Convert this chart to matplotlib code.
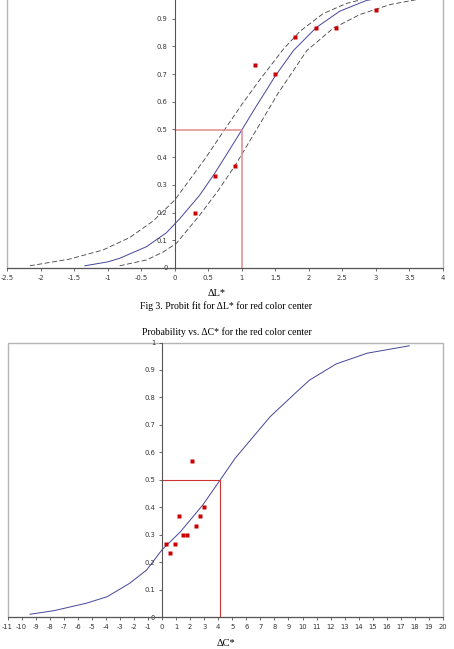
import matplotlib
matplotlib.use("Agg")
import matplotlib.pyplot as plt
from matplotlib.patches import Rectangle

plt.rcParams['axes.unicode_minus'] = False

# --- top chart: probit fit for dL* ---
dl_obs_x = [0.3, 0.6, 0.9, 1.2, 1.5, 1.8, 2.1, 2.4, 3.0]
dl_obs_y = [0.2, 0.333, 0.367, 0.733, 0.7, 0.833, 0.867, 0.867, 0.933]

dl_fit_x = [-1.34, -1.0, -0.82, -0.42, -0.12, 0.075, 0.37, 0.6, 0.8, 1.0, 1.2, 1.37, 1.49, 1.77, 2.11, 2.46, 2.86, 3.3, 3.8]
dl_fit_y = [0.008, 0.022, 0.035, 0.077, 0.128, 0.178, 0.262, 0.343, 0.42, 0.498, 0.578, 0.643, 0.69, 0.785, 0.868, 0.927, 0.966, 0.984, 0.994]

dl_up_x = [-2.16, -1.57, -1.07, -0.67, -0.32, 0.0, 0.44, 0.74, 1.0, 1.27, 1.62, 1.87, 2.21, 2.56, 3.0, 3.5]
dl_up_y = [0.008, 0.032, 0.065, 0.11, 0.17, 0.245, 0.39, 0.498, 0.59, 0.68, 0.79, 0.855, 0.918, 0.955, 0.982, 0.994]

dl_lo_x = [-0.82, -0.42, -0.17, 0.025, 0.37, 0.65, 0.9, 1.0, 1.27, 1.54, 1.97, 2.36, 2.76, 3.21, 3.61, 4.0]
dl_lo_y = [0.008, 0.029, 0.058, 0.089, 0.19, 0.28, 0.37, 0.41, 0.52, 0.63, 0.785, 0.865, 0.915, 0.951, 0.969, 0.98]

dl_mid = (1.0, 0.497)
dl_xticks = [-2.5, -2, -1.5, -1, -0.5, 0, 0.5, 1, 1.5, 2, 2.5, 3, 3.5, 4]

# --- bottom chart: probit fit for dC* ---
dc_obs_x = [0.3, 0.6, 0.9, 1.2, 1.5, 1.8, 2.1, 2.4, 2.7, 3.0]
dc_obs_y = [0.267, 0.233, 0.267, 0.367, 0.3, 0.3, 0.567, 0.333, 0.367, 0.4]

dc_fit_x = [-9.4, -7.7, -5.4, -3.9, -2.3, -1.1, 0.0, 1.3, 2.9, 4.15, 5.2, 7.7, 9.6, 10.5, 12.4, 14.6, 17.6]
dc_fit_y = [0.01, 0.023, 0.05, 0.074, 0.123, 0.171, 0.245, 0.31, 0.408, 0.5, 0.578, 0.73, 0.821, 0.863, 0.922, 0.961, 0.988]

dc_mid = (4.15, 0.5)
dc_xticks = list(range(-11, 21))

yticks = [0, 0.1, 0.2, 0.3, 0.4, 0.5, 0.6, 0.7, 0.8, 0.9, 1]

W, H = 454, 649
fig = plt.figure(figsize=(W / 100, H / 100), dpi=100)
fig.patch.set_facecolor('white')

frame_col = '#b4b4b4'
axis_col = '#555555'
tick_col = '#333333'
red = '#cc0000'
blue = '#45459a'


def setup_axes(ax, xlim, xticks, show_top_label=True):
    ax.set_xlim(*xlim)
    ax.set_ylim(0, 1)
    for s in ['top', 'right']:
        ax.spines[s].set_visible(False)
    ax.spines['left'].set_position(('data', 0))
    ax.spines['left'].set_color(axis_col)
    ax.spines['bottom'].set_color(axis_col)
    ax.spines['left'].set_linewidth(0.8)
    ax.spines['bottom'].set_linewidth(0.8)
    ax.add_patch(Rectangle((0, 0), 1, 1, transform=ax.transAxes, fill=False,
                           edgecolor=frame_col, linewidth=1.0, clip_on=False, zorder=0))
    ax.set_xticks(xticks)
    ax.set_xticklabels(['%g' % v for v in xticks])
    ax.set_yticks(yticks)
    labels = ['%g' % v for v in yticks]
    if not show_top_label:
        labels[-1] = ''
    ax.set_yticklabels(labels)
    ax.tick_params(axis='both', direction='out', length=2.5, width=0.6, color=axis_col,
                   labelsize=4.9, labelcolor=tick_col, pad=2.5)
    ax.patch.set_alpha(0)


# top axes (cropped at the figure top)
ax1 = fig.add_axes([7 / W, 1 - 268 / H, 436 / W, 277 / H])
setup_axes(ax1, (-2.5, 4), dl_xticks, show_top_label=False)
ax1.plot(dl_up_x, dl_up_y, color='#404040', lw=0.6, dashes=(6, 3))
ax1.plot(dl_lo_x, dl_lo_y, color='#404040', lw=0.6, dashes=(6, 3))
ax1.plot(dl_fit_x, dl_fit_y, color=blue, lw=0.7)
ax1.plot([0, dl_mid[0], dl_mid[0]], [dl_mid[1], dl_mid[1], 0], color='#e08a8a', lw=1.1)
ax1.plot(dl_obs_x, dl_obs_y, 's', color=red, ms=2.6, mec='none')

# bottom axes
ax2 = fig.add_axes([7.5 / W, 1 - 617 / H, 435.5 / W, 274.5 / H])
setup_axes(ax2, (-11, 20), dc_xticks)
ax2.plot(dc_fit_x, dc_fit_y, color=blue, lw=0.7)
ax2.plot([0, dc_mid[0], dc_mid[0]], [dc_mid[1], dc_mid[1], 0], color='#cc3333', lw=0.8)
ax2.plot(dc_obs_x, dc_obs_y, 's', color=red, ms=2.6, mec='none')

serif = ['Liberation Serif', 'DejaVu Serif']
fig.text(217 / W, 1 - 293 / H, '\u0394L*', family=serif, fontsize=7.5, ha='center', va='center')
fig.text(226.5 / W, 1 - 306 / H, 'Fig 3. Probit fit for \u0394L* for red color center',
         family=serif, fontsize=7, ha='center', va='center')
fig.text(227 / W, 1 - 332 / H, 'Probability vs. \u0394C* for the red color center',
         family=serif, fontsize=7, ha='center', va='center')
fig.text(226 / W, 1 - 643 / H, '\u0394C*', family=serif, fontsize=7.5, ha='center', va='center')

fig.savefig('out.png', dpi=100)
